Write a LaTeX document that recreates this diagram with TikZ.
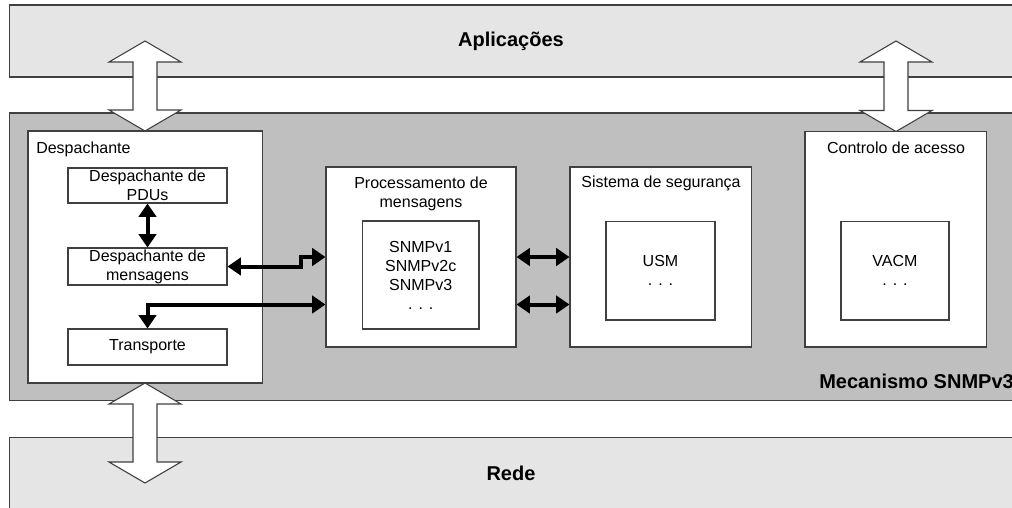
\documentclass[tikz,border=0pt]{standalone}
\usepackage{fontspec}
\setmainfont{Liberation Sans}
\usetikzlibrary{arrows.meta,fit,positioning}

\tikzset{
  band/.style={draw=black!75, line width=0.8pt, fill=black!10},
  engine/.style={draw=black!75, line width=0.8pt, fill=black!25},
  box/.style={draw=black!75, line width=0.8pt, fill=white, inner sep=0pt},
  txt/.style={font=\fontsize{12}{14.25}\selectfont, align=center, inner sep=0pt},
  bigtxt/.style={font=\fontsize{15}{18}\selectfont\bfseries, inner sep=0pt},
  link/.style={line width=3pt, {Triangle[length=10pt,width=13pt]}-{Triangle[length=10pt,width=13pt]}},
  hollow/.style={draw=black!75, line width=0.8pt, fill=white}
}

\begin{document}
\begin{tikzpicture}[x=0.75pt, y=-0.75pt]
	\useasboundingbox (0,0) rectangle (1012,507);
	% layers
	\draw[band] (9.5,5) rectangle (1030,77);
	\draw[engine] (9.5,113) rectangle (1030,400.5);
	\draw[band] (9.5,437.5) rectangle (1030,520);
	\node[bigtxt] (app) at (511,41) {Aplicações};
	\node[bigtxt] (net) at (511,473) {Rede};
	\node[bigtxt, anchor=west] (eng) at (819,381) {Mecanismo SNMPv3};

	% despachante
	\node[box, fit={(28,131) (262.5,383)}] (disp) {};
	\node[txt, anchor=west] (displbl) at (36,149) {Despachante};
	\node[box, fit={(68,168) (227,203)}] (pdu) {};
	\node[txt] (pdutxt) at (pdu) {Despachante de\\PDUs};
	\node[box, fit={(68,248) (227,285)}] (msg) {};
	\node[txt] (msgtxt) at (msg) {Despachante de\\mensagens};
	\node[box, fit={(68,329) (227,365)}] (trans) {};
	\node[txt] (transtxt) at (trans) {Transporte};

	% processamento
	\node[box, fit={(326,167) (516,347)}] (proc) {};
	\node[txt] (proclbl) at (421,193.5) {Processamento de\\mensagens};
	\node[box, fit={(362.5,221) (479,329)}] (models) {};
	\node[txt] (modelstxt) at (models) {SNMPv1\\SNMPv2c\\SNMPv3\\. . .};

	% seguranca
	\node[box, fit={(570,167) (751.5,347)}] (sec) {};
	\node[txt] (seclbl) at (661,183) {Sistema de segurança};
	\node[box, fit={(606,221.5) (715,320)}] (usm) {};
	\node[txt] (usmtxt) at (usm) {USM\\. . .};

	% controlo de acesso
	\node[box, fit={(805,131.5) (986.5,347)}] (ctrl) {};
	\node[txt] (ctrllbl) at (896,148) {Controlo de acesso};
	\node[box, fit={(841,221.5) (949,320)}] (vacm) {};
	\node[txt] (vacmtxt) at (vacm) {VACM\\. . .};

	% hollow arrows between layers
	\foreach \cx/\ya/\yb in {145/41/131, 896/41/131.5, 145/383/483}
		\draw[hollow] (\cx,\ya) -- ++(36,21) -- ++(-24,0) -- (\cx+12,\yb-21) -- ++(24,0)
			-- (\cx,\yb) -- ++(-36,-21) -- ++(24,0) -- (\cx-12,\ya+21) -- ++(-24,0) -- cycle;

	% links
	\draw[link] (pdu) -- (msg);
	\draw[link] (msg.east) -- ++(73,0) -- ++(0,-9.5) -- (proc.west |- 0,257);
	\draw[link] (proc.west |- 0,304.5) -| (trans.north);
	\draw[link] (proc.east |- 0,257) -- (sec.west |- 0,257);
	\draw[link] (proc.east |- 0,304.5) -- (sec.west |- 0,304.5);
\end{tikzpicture}
\end{document}
